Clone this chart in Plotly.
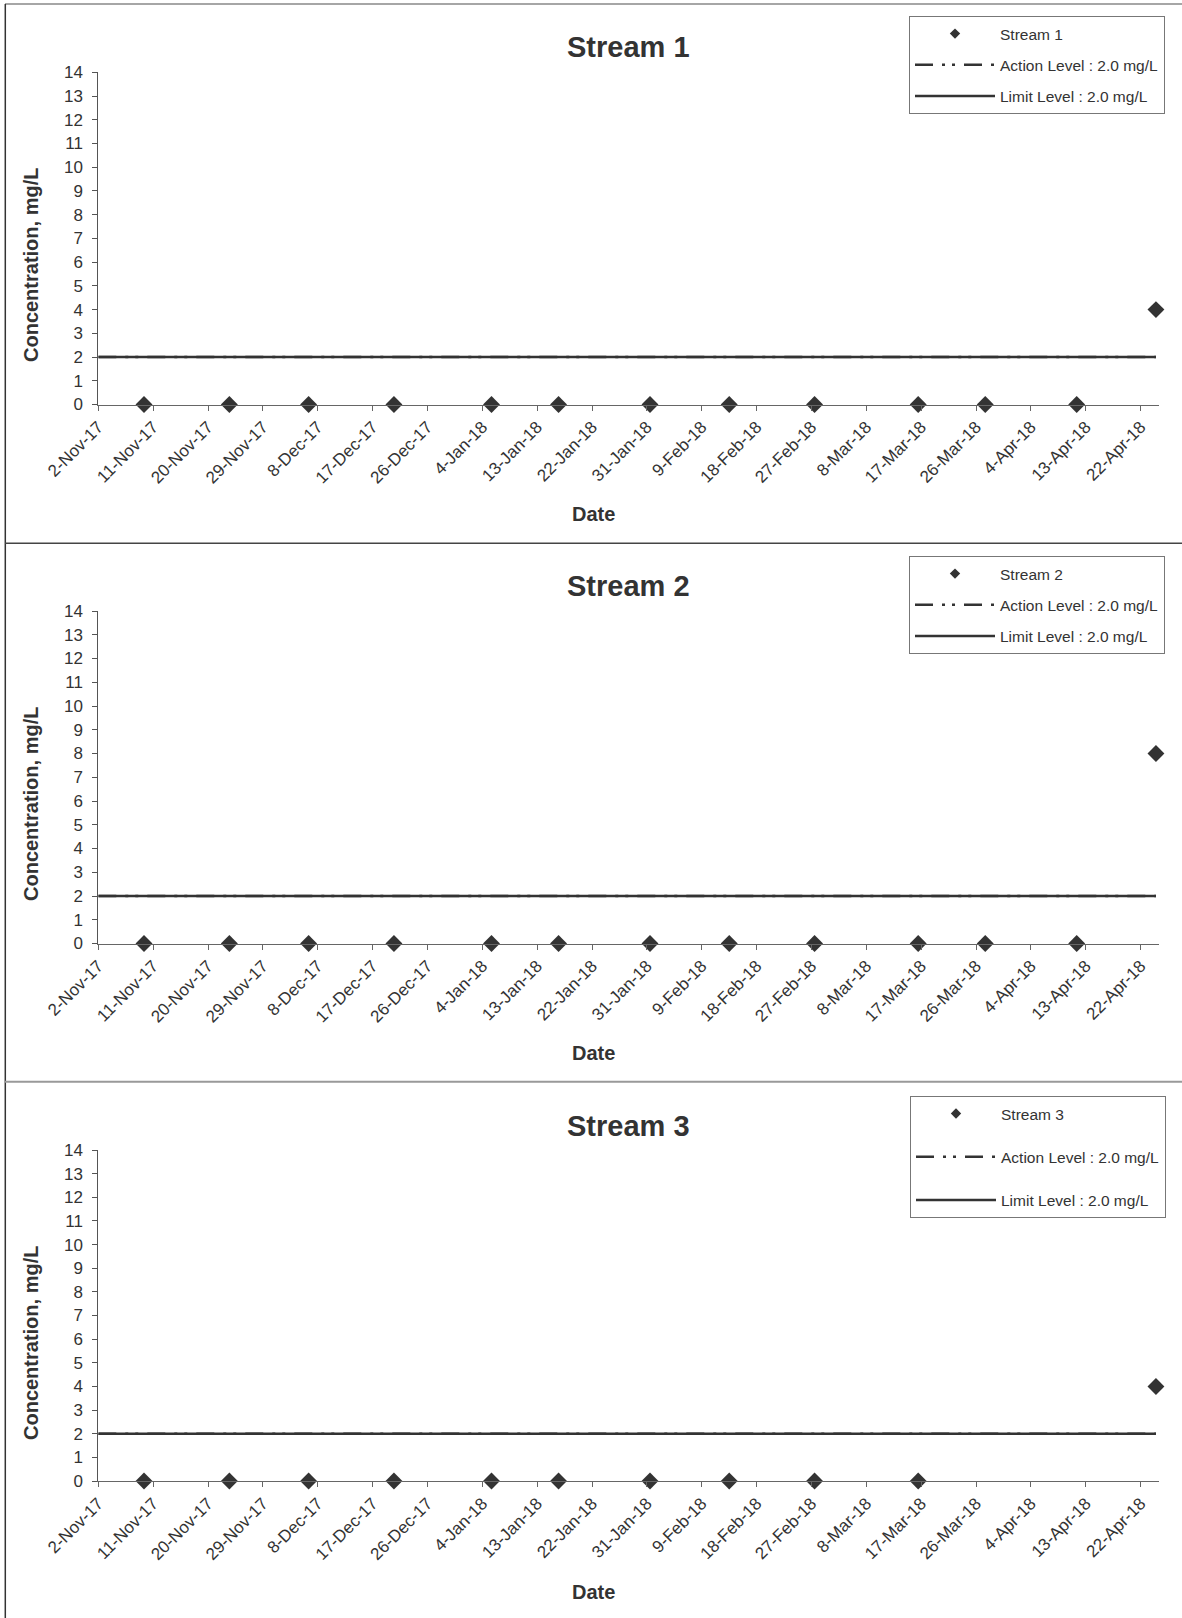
import plotly.graph_objects as go
from datetime import datetime, timedelta

# ---------------- data ----------------
tick_labels = ["2-Nov-17", "11-Nov-17", "20-Nov-17", "29-Nov-17", "8-Dec-17", "17-Dec-17",
               "26-Dec-17", "4-Jan-18", "13-Jan-18", "22-Jan-18", "31-Jan-18", "9-Feb-18",
               "18-Feb-18", "27-Feb-18", "8-Mar-18", "17-Mar-18", "26-Mar-18", "4-Apr-18",
               "13-Apr-18", "22-Apr-18"]

stream1_dates = ["2017-11-09", "2017-11-23", "2017-12-06", "2017-12-20", "2018-01-05", "2018-01-16",
                 "2018-01-31", "2018-02-13", "2018-02-27", "2018-03-16", "2018-03-27", "2018-04-11",
                 "2018-04-24"]
stream1_values = [0, 0, 0, 0, 0, 0, 0, 0, 0, 0, 0, 0, 4]

stream2_dates = ["2017-11-09", "2017-11-23", "2017-12-06", "2017-12-20", "2018-01-05", "2018-01-16",
                 "2018-01-31", "2018-02-13", "2018-02-27", "2018-03-16", "2018-03-27", "2018-04-11",
                 "2018-04-24"]
stream2_values = [0, 0, 0, 0, 0, 0, 0, 0, 0, 0, 0, 0, 8]

stream3_dates = ["2017-11-09", "2017-11-23", "2017-12-06", "2017-12-20", "2018-01-05", "2018-01-16",
                 "2018-01-31", "2018-02-13", "2018-02-27", "2018-03-16", "2018-04-24"]
stream3_values = [0, 0, 0, 0, 0, 0, 0, 0, 0, 0, 4]

stream_names = ["Stream 1", "Stream 2", "Stream 3"]
action_level = 2.0
limit_level = 2.0
axis_start = "2017-11-02"
axis_end = "2018-04-25"

# ---------------- layout helpers ----------------
W, H = 1182, 1618
def px(x):
    return x / W
def py(y):
    return 1 - y / H

FONT = "Arial, Liberation Sans, Helvetica, sans-serif"
DARK = "#333333"

# Excel "between tick marks" date axis: each date sits in the middle of its day slot
half = timedelta(hours=12)
def parse_label(s):
    return datetime.strptime(s, "%d-%b-%y")
tickvals = [parse_label(s) - half for s in tick_labels]
x_min = datetime.strptime(axis_start, "%Y-%m-%d") - half
x_max = datetime.strptime(axis_end, "%Y-%m-%d") - half

panels = [
    dict(dates=stream1_dates, values=stream1_values, top=72.3, bottom=404.5, offset=0,
         legend_top=16, legend_left=909, gap=8),
    dict(dates=stream2_dates, values=stream2_values, top=611.0, bottom=943.5, offset=539,
         legend_top=556, legend_left=909, gap=8),
    dict(dates=stream3_dates, values=stream3_values, top=1150.0, bottom=1481.0, offset=1078,
         legend_top=1096, legend_left=910, gap=20),
]

fig = go.Figure()
layout = dict(
    template="none",
    width=W, height=H, margin=dict(l=0, r=0, t=0, b=0, pad=0, autoexpand=False),
    paper_bgcolor="white", plot_bgcolor="white",
    font=dict(family=FONT, color=DARK, size=17),
    showlegend=True, annotations=[], shapes=[],
)

x_left, x_right = 98.3, 1159.0

for i, p in enumerate(panels):
    n = i + 1
    xa = "x" if n == 1 else f"x{n}"
    ya = "y" if n == 1 else f"y{n}"
    leg = "legend" if n == 1 else f"legend{n}"

    dates = [datetime.strptime(d, "%Y-%m-%d") for d in p["dates"]]
    line_x = [x_min, dates[-1]]

    # real data trace
    fig.add_trace(go.Scatter(
        x=dates, y=p["values"], mode="markers", xaxis=xa, yaxis=ya,
        marker=dict(symbol="diamond", size=13, color=DARK),
        cliponaxis=False, showlegend=False, name=stream_names[i]))
    # legend entry (small diamond as in the original)
    fig.add_trace(go.Scatter(
        x=[None], y=[None], mode="markers", xaxis=xa, yaxis=ya,
        marker=dict(symbol="diamond", size=8, color=DARK),
        name=stream_names[i], legend=leg, legendgroup=f"s{n}a"))
    fig.add_trace(go.Scatter(
        x=line_x, y=[action_level, action_level], mode="lines", xaxis=xa, yaxis=ya,
        line=dict(color=DARK, width=2.5, dash="18px,9px,3px,7px,3px,9px"),
        name=f"Action Level : {action_level:.1f} mg/L", legend=leg, legendgroup=f"s{n}b"))
    fig.add_trace(go.Scatter(
        x=line_x, y=[limit_level, limit_level], mode="lines", xaxis=xa, yaxis=ya,
        line=dict(color=DARK, width=2.5),
        name=f"Limit Level : {limit_level:.1f} mg/L", legend=leg, legendgroup=f"s{n}c"))

    xkey = "xaxis" if n == 1 else f"xaxis{n}"
    ykey = "yaxis" if n == 1 else f"yaxis{n}"
    layout[xkey] = dict(
        type="date", domain=[px(x_left), px(x_right)], anchor=ya, automargin=False,
        range=[x_min, x_max], tickvals=tickvals, ticktext=tick_labels, tickangle=-45,
        ticks="outside", ticklen=5, tickcolor="#666", showline=True, linecolor="#666",
        linewidth=1, showgrid=False, zeroline=False,
        tickfont=dict(family=FONT, size=17, color=DARK))
    layout[ykey] = dict(
        domain=[py(p["bottom"]), py(p["top"])], anchor=xa, automargin=False,
        range=[0, 14], tickmode="linear", tick0=0, dtick=1,
        ticks="outside", ticklen=5, tickcolor="#555", showline=True, linecolor="#555",
        linewidth=1, showgrid=False, zeroline=False, ticklabelstandoff=6,
        tickfont=dict(family=FONT, size=17, color=DARK))
    layout[leg] = dict(
        x=px(p["legend_left"]), y=py(p["legend_top"]), xanchor="left", yanchor="top",
        bordercolor="#777", borderwidth=1, bgcolor="white",
        font=dict(family=FONT, size=15.5, color=DARK), itemwidth=80,
        tracegroupgap=p["gap"], traceorder="grouped")

    off = p["offset"]
    layout["annotations"] += [
        dict(text=f"<b>{stream_names[i]}</b>", x=px(629), y=py(47.5 + off), xref="paper",
             yref="paper", showarrow=False, font=dict(family=FONT, size=29, color=DARK),
             xanchor="center", yanchor="middle"),
        dict(text="<b>Concentration, mg/L</b>", x=px(31), y=py(265 + off), xref="paper",
             yref="paper", showarrow=False, textangle=-90,
             font=dict(family=FONT, size=20, color=DARK), xanchor="center", yanchor="middle"),
        dict(text="<b>Date</b>", x=px(593.6), y=py(514 + off), xref="paper", yref="paper",
             showarrow=False, font=dict(family=FONT, size=20, color=DARK),
             xanchor="center", yanchor="middle"),
    ]

# panel frames
layout["shapes"] += [
    dict(type="line", xref="paper", yref="paper", x0=px(5), x1=1, y0=py(4), y1=py(4),
         line=dict(color="#888", width=1.5)),
    dict(type="line", xref="paper", yref="paper", x0=px(5.3), x1=px(5.3), y0=py(4), y1=0,
         line=dict(color="#333", width=1.5)),
    dict(type="line", xref="paper", yref="paper", x0=px(5), x1=1, y0=py(543.3), y1=py(543.3),
         line=dict(color="#444", width=1.5)),
    dict(type="line", xref="paper", yref="paper", x0=px(5), x1=1, y0=py(1081.7), y1=py(1081.7),
         line=dict(color="#999", width=2)),
]

fig.update_layout(**layout)
fig.write_html("out.html", config={"displayModeBar": False},
               post_script="document.body.style.margin='0';")
